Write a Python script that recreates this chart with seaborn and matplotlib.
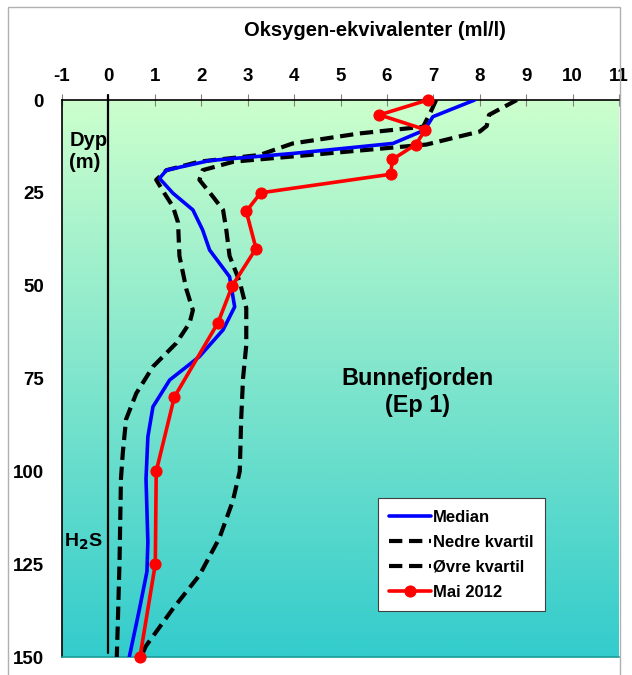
import numpy as np
import matplotlib
matplotlib.use("Agg")
import matplotlib.pyplot as plt
import seaborn as sns
from matplotlib.colors import LinearSegmentedColormap
from matplotlib.patches import Rectangle

# Oksygen-ekvivalenter (ml/l) mot dyp (m), Bunnefjorden (Ep 1)
median_dyp = [0, 4.5, 8.1, 11.7, 14.4, 16.3, 18.9, 21.1, 25.1, 29.6, 35, 40.4, 47.6,
              55.7, 61.9, 69.1, 75.4, 82.6, 90.7, 102, 119, 127, 137, 150]
median_oks = [7.89, 6.99, 6.81, 6.13, 3.97, 2.18, 1.25, 1.10, 1.39, 1.82, 2.03, 2.18, 2.61,
              2.72, 2.47, 1.96, 1.32, 0.96, 0.85, 0.81, 0.85, 0.83, 0.67, 0.45]

nedre_dyp = [0, 3, 7.2, 9, 11.7, 14.8, 16.6, 18.9, 21.5, 25, 28.7, 33, 42, 51, 56.6,
             60, 65.5, 71.8, 79, 86, 95, 102, 124, 142, 150]
nedre_oks = [7.06, 6.95, 6.78, 5.41, 3.97, 3.26, 1.96, 1.25, 1.03, 1.2, 1.39, 1.50, 1.53,
             1.68, 1.82, 1.75, 1.46, 0.96, 0.60, 0.38, 0.31, 0.27, 0.24, 0.20, 0.18]

ovre_dyp = [0, 2, 4, 7, 8.5, 10, 12, 14.4, 16.6, 18.9, 21.5, 26, 29.6, 35, 42, 49, 56,
            66, 75, 86, 100, 108, 118, 128, 137, 147, 150]
ovre_oks = [8.8, 8.5, 8.2, 8.15, 8.0, 7.5, 6.85, 4.7, 2.7, 2.03, 1.96, 2.25, 2.47, 2.54,
            2.61, 2.83, 2.97, 2.97, 2.90, 2.86, 2.83, 2.68, 2.39, 1.96, 1.39, 0.81, 0.7]

mai2012_dyp = [0, 4, 8, 12, 16, 20, 25, 30, 40, 50, 60, 80, 100, 125, 150]
mai2012_oks = [6.88, 5.84, 6.83, 6.62, 6.12, 6.08, 3.28, 2.97, 3.18, 2.67, 2.36, 1.42,
               1.03, 1.01, 0.68]

x_ticks = list(range(-1, 12))
y_ticks = [0, 25, 50, 75, 100, 125, 150]

sns.set_theme(style="white")
plt.rcParams["font.family"] = ["Liberation Sans", "DejaVu Sans"]
plt.rcParams["font.weight"] = "bold"
plt.rcParams["text.color"] = "black"
plt.rcParams["xtick.labelcolor"] = "black"
plt.rcParams["ytick.labelcolor"] = "black"
plt.rcParams["axes.unicode_minus"] = False

fig = plt.figure(figsize=(6.32, 6.75), dpi=100)
ax = fig.add_axes([62 / 632, 1 - 657 / 675, 557 / 632, 557 / 675])

# ramme rundt hele diagrammet
fig.patches.append(Rectangle((8 / 632, -0.01), 612 / 632, 1 - 7 / 675 + 0.01,
                             transform=fig.transFigure, fill=False,
                             edgecolor="#b0b0b0", linewidth=1))

# bakgrunn med gradient
grad = LinearSegmentedColormap.from_list("bg", ["#ccffcc", "#33cccc"])
ax.imshow(np.linspace(0, 1, 256).reshape(-1, 1), cmap=grad, aspect="auto",
          extent=[-1, 11, 150, 0], zorder=0)

# nullinje
ax.plot([0, 0], [-1.3, 148.8], color="black", lw=1.6, clip_on=False, zorder=2)

dash = (0, (3.2, 1.6))
sns.lineplot(x=nedre_oks, y=nedre_dyp, sort=False, estimator=None, ax=ax,
             color="black", lw=3, linestyle=dash, label="Nedre kvartil", zorder=3)
sns.lineplot(x=ovre_oks, y=ovre_dyp, sort=False, estimator=None, ax=ax,
             color="black", lw=3, linestyle=dash, label="Øvre kvartil", zorder=3)
sns.lineplot(x=median_oks, y=median_dyp, sort=False, estimator=None, ax=ax,
             color="#0000ff", lw=2.6, label="Median", zorder=4)
sns.lineplot(x=mai2012_oks, y=mai2012_dyp, sort=False, estimator=None, ax=ax,
             color="#ff0000", lw=2.6, marker="o", markersize=8,
             markeredgecolor="#ff0000", label="Mai 2012", zorder=5, clip_on=False)

ax.set_xlim(-1, 11)
ax.set_ylim(150, 0)
ax.set_xticks(x_ticks)
ax.set_yticks(y_ticks)
ax.xaxis.tick_top()
ax.tick_params(axis="both", direction="inout", length=8, width=0.8, color="#808080",
               labelsize=13.5, pad=9)
ax.tick_params(axis="x", pad=6.5)
for lab in ax.get_xticklabels() + ax.get_yticklabels():
    lab.set_fontweight("bold")
ax.set_xlabel("")
ax.set_ylabel("")

ax.spines["top"].set_color("black")
ax.spines["left"].set_color("black")
ax.spines["top"].set_linewidth(1.2)
ax.spines["left"].set_linewidth(1.2)
ax.spines["right"].set_visible(False)
ax.spines["bottom"].set_color("#1a9a9a")
ax.spines["bottom"].set_linewidth(1.2)

fig.text(375 / 632, 1 - 31 / 675, "Oksygen-ekvivalenter (ml/l)", ha="center",
         va="center", fontsize=14.5, fontweight="bold")

ax.text(-0.84, 14, "Dyp\n(m)", ha="left", va="center", fontsize=14.5,
        fontweight="bold", linespacing=1.2, zorder=6)
ax.text(-0.95, 119, "H$_\\mathbf{2}$S", ha="left", va="center", fontsize=14,
        fontweight="bold", zorder=6)
ax.text(6.65, 78.6, "Bunnefjorden\n(Ep 1)", ha="center", va="center", fontsize=16.8,
        fontweight="bold", linespacing=1.2, zorder=6)

handles, labels = ax.get_legend_handles_labels()
order = [labels.index(n) for n in ["Median", "Nedre kvartil", "Øvre kvartil", "Mai 2012"]]
leg = ax.legend([handles[i] for i in order], [labels[i] for i in order],
                loc="upper left", bbox_to_anchor=(0.567, 0.2855), borderaxespad=0,
                frameon=True, fancybox=False, edgecolor="#404040", framealpha=1,
                handlelength=2.5, handletextpad=0.1, borderpad=0.7,
                labelspacing=0.6, prop={"weight": "bold", "size": 12})
leg.get_frame().set_linewidth(0.8)
leg.set_zorder(10)

fig.savefig("out.png", dpi=100)
